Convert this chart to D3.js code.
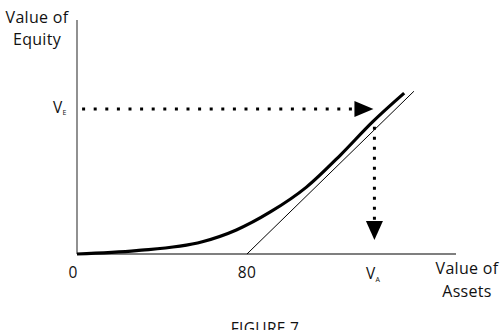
<!DOCTYPE html>
<html>
<head>
<meta charset="utf-8">
<script src="https://cdn.jsdelivr.net/npm/d3@7"></script>
<style>
  html, body { margin: 0; padding: 0; background: #fff; }
  svg { display: block; }
  text { font-family: "Open Sans", "DejaVu Sans", sans-serif; font-weight: 400; fill: #111; letter-spacing: 0.3px; }
</style>
</head>
<body>
<svg id="chart" width="504" height="330"></svg>
<script>
// ---- data ----
const strike = 80;                     // face value of debt
const xTickValues = [0, 80];
const xTickLabels = ["0", "80"];
// equity value (thick curve) : asset value -> equity value
const assetValues  = [0, 28, 59, 75, 91, 108, 124, 139, 154];
const equityValues = [0, 1.6, 5.9, 11.6, 20.3, 32.3, 47.8, 63.7, 77.7];
// intrinsic payoff line max(V - 80, 0)
const payoffAssets = [80, 158.6];
const payoffValues = [0, 78.6];
const vE = 70;     // value of equity marker
const vA = 140;    // value of assets marker

const svg = d3.select("#chart");
const x = d3.scaleLinear().domain([0, 178.4]).range([77, 456]);
const y = d3.scaleLinear().domain([0, 113]).range([254, 20]);

// axes
const axisColor = "#555";
svg.append("line").attr("x1", x(0)).attr("x2", x(0)).attr("y1", y(0)).attr("y2", y(113))
  .attr("stroke", axisColor).attr("stroke-width", 1.3);
svg.append("line").attr("x1", x(0)).attr("x2", x(178.4)).attr("y1", y(0)).attr("y2", y(0))
  .attr("stroke", axisColor).attr("stroke-width", 1.3);

// payoff line (thin)
const line = d3.line().x(d => x(d[0])).y(d => y(d[1]));
svg.append("path")
  .datum(payoffAssets.map((a, i) => [a, payoffValues[i]]))
  .attr("d", line).attr("fill", "none").attr("stroke", "#000").attr("stroke-width", 1);

// equity curve (thick)
const curve = d3.line().x(d => x(d[0])).y(d => y(d[1])).curve(d3.curveMonotoneX);
svg.append("path")
  .datum(assetValues.map((a, i) => [a, equityValues[i]]))
  .attr("d", curve).attr("fill", "none").attr("stroke", "#000")
  .attr("stroke-width", 3.2).attr("stroke-linejoin", "round");

// dotted horizontal arrow
const hx0 = x(2.4), hx1 = x(vA) - 20;
svg.append("line").attr("x1", hx0).attr("x2", hx1).attr("y1", y(vE)).attr("y2", y(vE))
  .attr("stroke", "#000").attr("stroke-width", 3).attr("stroke-dasharray", "3,8.6");
const tipX = x(vA) - 1, hy = y(vE);
svg.append("path")
  .attr("d", `M${tipX},${hy} L${tipX - 19},${hy - 8} L${tipX - 19},${hy + 8} Z`)
  .attr("fill", "#000");

// dotted vertical arrow
const vx = x(vA);
const vy0 = y(61.4), tipY = y(6.8);
svg.append("line").attr("x1", vx).attr("x2", vx).attr("y1", vy0).attr("y2", tipY - 18)
  .attr("stroke", "#000").attr("stroke-width", 3).attr("stroke-dasharray", "3,7");
svg.append("path")
  .attr("d", `M${vx},${tipY} L${vx - 8.5},${tipY - 19} L${vx + 8.5},${tipY - 19} Z`)
  .attr("fill", "#000");

// x tick labels
svg.selectAll(".xt").data(xTickValues).enter().append("text")
  .attr("x", d => x(d) + (d === 0 ? -4 : 0))
  .attr("y", 278).attr("text-anchor", "middle").attr("font-size", 15.5)
  .text((d, i) => xTickLabels[i]);

// V_A label
const va = svg.append("text").attr("x", 366).attr("y", 279).attr("font-size", 15.5);
va.append("tspan").text("V");
va.append("tspan").attr("font-size", 7).attr("dy", 3).text("A");

// V_E label
const ve = svg.append("text").attr("x", 53).attr("y", 113).attr("font-size", 15.5);
ve.append("tspan").text("V");
ve.append("tspan").attr("font-size", 7).attr("dy", 2).text("E");

// axis titles
svg.append("text").attr("x", 37).attr("y", 23).attr("text-anchor", "middle").attr("font-size", 16).text("Value of");
svg.append("text").attr("x", 37).attr("y", 45).attr("text-anchor", "middle").attr("font-size", 16).text("Equity");
svg.append("text").attr("x", 467).attr("y", 274).attr("text-anchor", "middle").attr("font-size", 16).text("Value of");
svg.append("text").attr("x", 467).attr("y", 297).attr("text-anchor", "middle").attr("font-size", 16).text("Assets");

// figure caption
svg.append("text").attr("x", 265).attr("y", 334).attr("text-anchor", "middle").attr("font-size", 15.5).text("FIGURE 7");
</script>
</body>
</html>
